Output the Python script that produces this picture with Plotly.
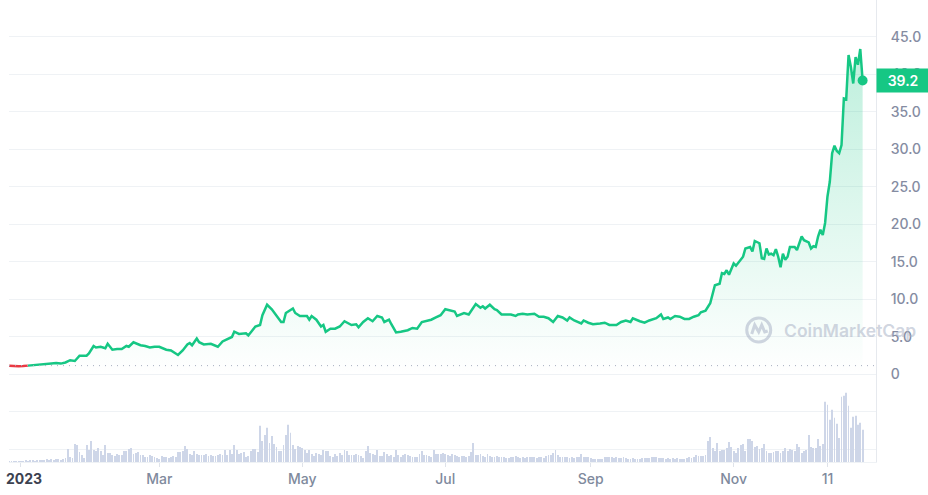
import pandas as pd
import plotly.graph_objects as go

GREEN = "#16c784"
RED = "#ea3943"
GRID = "#eff2f5"
AXIS_TEXT = "#858ca2"
VOLUME_COLOR = "#ced6e8"
WATERMARK = "rgba(170,178,198,0.55)"

# Prix (USD), jours comptés depuis le 1er janvier 2023
START = pd.Timestamp("2023-01-01")
price_day = [
    -5, -3, -1, 1, 3, 5, 7, 9, 11, 13, 15, 17, 19, 21, 23, 25, 28, 29, 31, 32,
    34, 36, 37, 39, 41, 43, 45, 46, 48, 51, 53, 55, 57, 59, 62, 64, 67, 69, 71, 72,
    73, 75, 76, 78, 81, 83, 84, 86, 89, 90, 91, 93, 96, 97, 100, 102, 103, 105, 107, 109,
    110, 111, 112, 113, 116, 117, 119, 122, 123, 124, 126, 128, 129, 130, 132, 134, 136, 138, 141, 143,
    144, 146, 148, 150, 152, 154, 155, 157, 158, 160, 162, 165, 167, 169, 171, 173, 175, 177, 179, 181,
    183, 185, 186, 189, 191, 194, 196, 197, 198, 200, 202, 203, 205, 207, 209, 211, 212, 214, 216, 219,
    221, 223, 225, 227, 229, 231, 233, 234, 236, 239, 240, 242, 244, 247, 249, 251, 254, 256, 258, 260,
    261, 264, 266, 268, 271, 273, 274, 276, 277, 279, 281, 283, 285, 287, 289, 290, 292, 294, 295, 296,
    298, 299, 300, 301, 302, 303, 304, 305, 306, 308, 309, 311, 312, 313, 315, 316, 317, 318, 319, 320,
    321, 322, 323, 324, 325, 326, 327, 328, 330, 331, 333, 334, 336, 337, 338, 339, 340, 341, 342, 343,
    344, 345, 346, 347, 348, 349, 350, 351, 352, 353, 354, 355, 356, 357, 358, 359,
]
price = [
    1.18, 1.12, 1.10, 1.12, 1.18, 1.22, 1.28, 1.36, 1.40, 1.47, 1.53, 1.45, 1.60, 1.90, 1.80, 2.50, 2.50, 2.80, 3.80, 3.60,
    3.70, 3.50, 4.10, 3.30, 3.40, 3.40, 3.80, 3.70, 4.30, 3.90, 3.80, 3.60, 3.70, 3.70, 3.30, 3.20, 2.60, 3.20, 4.00, 4.20,
    3.90, 4.80, 4.30, 4.00, 4.10, 3.90, 3.70, 4.40, 4.80, 5.00, 5.70, 5.40, 5.50, 5.20, 6.40, 6.60, 7.90, 9.30, 8.70, 7.80,
    7.50, 7.00, 7.00, 8.20, 8.80, 8.20, 7.80, 7.80, 7.30, 7.80, 7.30, 6.40, 6.60, 5.70, 6.10, 6.10, 6.40, 7.10, 6.60, 6.70,
    6.30, 7.00, 7.50, 7.10, 7.80, 7.60, 7.00, 7.30, 6.70, 5.60, 5.70, 5.90, 6.20, 6.10, 7.00, 7.10, 7.30, 7.60, 7.90, 8.70,
    8.50, 8.40, 7.80, 8.20, 8.00, 9.40, 8.90, 9.10, 8.80, 9.30, 8.70, 8.60, 8.00, 8.00, 8.00, 7.80, 8.00, 8.10, 8.00, 8.10,
    7.70, 7.70, 7.50, 7.00, 7.80, 7.60, 7.20, 7.60, 7.20, 6.80, 7.20, 6.90, 6.70, 6.80, 6.90, 6.60, 6.60, 7.00, 7.20, 7.00,
    7.50, 7.10, 6.90, 7.20, 7.50, 8.00, 7.40, 7.60, 7.40, 7.80, 7.70, 7.40, 7.40, 7.70, 7.90, 8.30, 8.50, 9.50, 10.80, 11.90,
    12.10, 13.50, 13.40, 13.90, 13.30, 14.20, 14.80, 14.50, 14.90, 15.70, 16.80, 17.00, 16.40, 17.80, 17.50, 15.50, 15.40, 16.80, 16.00, 16.10,
    15.90, 16.70, 15.70, 14.30, 16.10, 15.30, 15.70, 17.00, 17.00, 16.60, 18.40, 17.90, 17.60, 16.80, 17.10, 17.00, 18.40, 19.30, 18.60, 20.20,
    23.70, 25.70, 29.50, 30.50, 29.80, 29.50, 30.60, 36.80, 36.70, 42.60, 41.00, 38.80, 42.30, 41.30, 43.40, 39.20,
]

# Volume journalier (unités relatives), dernier jour = dernier relevé de prix
volume_end = "2023-12-26"
volume = [
    1, 1, 1, 1, 1, 1, 1, 2, 1, 2, 2, 1, 2, 2, 2, 2, 3, 2, 3, 2, 3, 3, 2, 3, 4,
    13, 5, 4, 18, 17, 10, 7, 4, 17, 12, 21, 12, 11, 14, 11, 7, 17, 9, 9, 7,
    6, 8, 7, 7, 11, 11, 13, 14, 8, 9, 10, 7, 7, 5, 5, 7, 6, 5, 4, 3,
    6, 5, 5, 4, 5, 6, 5, 10, 10, 11, 16, 13, 8, 7, 11, 8, 7, 7, 7, 8,
    6, 7, 6, 6, 7, 8, 7, 12, 7, 12, 8, 17, 12, 8, 9, 10, 5, 6, 11, 13,
    13, 10, 36, 21, 27, 34, 19, 26, 18, 15, 11, 11, 17, 27, 37, 29, 17, 13, 16, 15,
    14, 12, 9, 12, 8, 6, 9, 8, 7, 12, 11, 11, 6, 5, 8, 6, 9, 7, 12, 11,
    7, 7, 7, 8, 7, 6, 4, 11, 16, 9, 8, 7, 12, 6, 6, 10, 8, 6, 7, 5,
    12, 7, 5, 7, 8, 7, 6, 5, 5, 5, 8, 11, 7, 7, 6, 5, 12, 8, 8, 8, 9,
    8, 7, 6, 8, 7, 6, 5, 6, 6, 5, 6, 10, 19, 7, 7, 8, 6, 5, 8, 6,
    5, 5, 6, 5, 5, 5, 4, 4, 5, 5, 6, 5, 4, 5, 4, 5, 5, 5, 5, 4,
    5, 5, 4, 6, 7, 7, 9, 12, 7, 5, 5, 5, 5, 4, 5, 4, 5, 5, 8, 5,
    5, 5, 4, 3, 3, 3, 3, 3, 5, 5, 5, 5, 4, 5, 4, 4, 5,
    4, 3, 3, 4, 3, 3, 3, 4, 4, 4, 4, 5, 5, 5, 4, 4, 4, 3, 4, 3,
    4, 3, 4, 3, 3, 3, 4, 5, 4, 5, 7, 6, 6, 6, 7, 21, 25, 14, 11, 19,
    11, 12, 12, 14, 20, 15, 11, 9, 14, 17, 18, 11, 23, 23, 21, 15, 16, 13, 14, 18,
    11, 9, 9, 10, 11, 11, 9, 11, 14, 11, 13, 12, 11, 18, 15, 9, 11, 12, 27, 15,
    14, 14, 23, 16, 18, 60, 57, 42, 52, 44, 38, 24, 65, 66, 69, 56, 34, 45, 46, 37,
    39, 32,
]

tick_dates = ["2023-01-01", "2023-03-01", "2023-05-01", "2023-07-01",
              "2023-09-01", "2023-11-01", "2023-12-11"]
tick_labels = ["2023", "Mar", "May", "Jul", "Sep", "Nov", "11"]
price_ticks = [-10, -5, 0, 5, 10, 15, 20, 25, 30, 35, 40, 45]
price_tick_labels = ["", "", "0", "5.0", "10.0", "15.0", "20.0", "25.0",
                     "30.0", "35.0", "40.0", "45.0"]

dates = START + pd.to_timedelta(price_day, unit="D")
vol_dates = pd.date_range(end=volume_end, periods=len(volume), freq="D")

base = price[0]
cross = next(i for i in range(1, len(price)) if price[i] > base)

fig = go.Figure()
fig.add_bar(
    x=vol_dates, y=volume, yaxis="y2",
    marker=dict(color=VOLUME_COLOR, line=dict(width=0)),
    width=0.38 * 86400000, hoverinfo="skip",
)
fig.add_hline(y=base, line=dict(color="#a6adbf", width=1, dash="1px,5px"))
fig.add_scatter(
    x=dates[cross - 1:], y=price[cross - 1:], mode="lines",
    line=dict(color=GREEN, width=2.5),
    fill="tozeroy",
    fillgradient=dict(type="vertical", colorscale=[[0, "rgba(22,199,132,0)"],
                                                   [1, "rgba(22,199,132,0.28)"]]),
)
fig.add_scatter(x=dates[:cross], y=price[:cross], mode="lines",
                line=dict(color=RED, width=2.5))
fig.add_scatter(x=[dates[-1]], y=[price[-1]], mode="markers",
                marker=dict(color=GREEN, size=10))

# étiquette du dernier prix
fig.add_annotation(
    x=1, xref="paper", xanchor="left", y=price[-1], yref="y", yanchor="middle",
    text=f"{price[-1]:.1f}", showarrow=False, bgcolor=GREEN,
    font=dict(color="white", size=14, weight=600), width=48, height=19,
    borderpad=2, align="center",
)

# filigrane
wm_x, wm_y = 757.5 / 876, (462 - 330) / 462
fig.add_shape(type="circle", xref="paper", yref="paper", xsizemode="pixel",
              ysizemode="pixel", xanchor=wm_x, yanchor=wm_y,
              x0=-12, x1=12, y0=-12, y1=12, line=dict(color=WATERMARK, width=3))
fig.add_shape(type="path", xref="paper", yref="paper", xsizemode="pixel",
              ysizemode="pixel", xanchor=wm_x, yanchor=wm_y,
              path="M -7 -4 L -4 5 L 0 -2 L 3 5 L 6 -2 L 9 -1",
              line=dict(color=WATERMARK, width=3))
fig.add_annotation(x=781 / 876, y=wm_y, xref="paper", yref="paper",
                   xanchor="left", yanchor="middle", text="CoinMarketCap",
                   showarrow=False, font=dict(size=17.5, weight=600, color=WATERMARK))

ticktext = ["\u00a0\u2009<b><span style='color:#3c4250'>%s</span></b>" % tick_labels[0]]
ticktext += tick_labels[1:]

fig.update_layout(
    width=928, height=495,
    margin=dict(l=0, r=52, t=0, b=33),
    paper_bgcolor="white", plot_bgcolor="white",
    showlegend=False,
    font=dict(family="Inter, sans-serif", color=AXIS_TEXT),
    xaxis=dict(
        range=["2022-12-26 22:00", "2023-12-31 17:00"],
        tickvals=tick_dates, ticktext=ticktext,
        showgrid=False, zeroline=False,
        showline=True, linecolor=GRID,
        ticks="outside", ticklen=4, tickcolor="#dfe3ea",
        tickfont=dict(size=14, weight=500, color="#808a9d"),
        ticklabeloverflow="allow",
    ),
    yaxis=dict(
        side="right", range=[-11.67, 49.93],
        tickvals=price_ticks, ticktext=price_tick_labels,
        gridcolor=GRID, zeroline=False,
        showline=True, linecolor="#e6e9ee",
        tickfont=dict(size=14, weight=500),
        ticklabelstandoff=11,
    ),
    yaxis2=dict(overlaying="y", range=[0, max(volume) / 0.15], visible=False),
)

fig.write_html("out.html", config={"displayModeBar": False},
               post_script="document.body.style.margin = '0';")
